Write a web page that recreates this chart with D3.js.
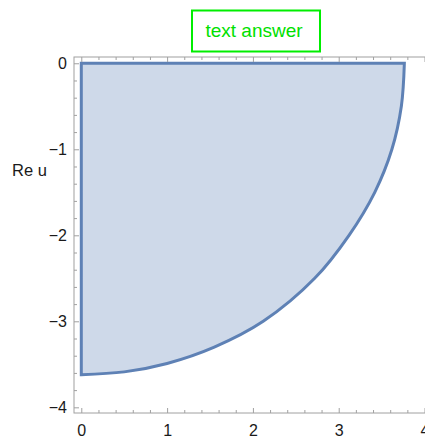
<!DOCTYPE html>
<html>
<head>
<meta charset="utf-8">
<script src="https://cdn.jsdelivr.net/npm/d3@7"></script>
<style>
  html, body { margin: 0; padding: 0; background: #fff; }
  svg { display: block; font-family: "Liberation Sans", Arial, sans-serif; }
</style>
</head>
<body>
<svg id="chart" width="425" height="439"></svg>
<script>
// Plot range (data units)
const xRange = [-0.085, 4.1];
const yRange = [-4.066, 0.073];

// Tick values
const xMajorTicks = [0, 1, 2, 3, 4];
const yMajorTicks = [0, -1, -2, -3, -4];
const minorStep = 0.2;

// Region boundary: straight edges along Re u = 0 and the vertical axis,
// closed by the curved outer edge running from (3.765, 0) to (0, -3.62).
const arcX = [3.765, 3.73, 3.62, 3.42, 3.12, 2.72, 2.12, 1.55, 1.0, 0.5, 0];
const arcY = [0, -0.5, -1.0, -1.5, -2.0, -2.5, -3.0, -3.3, -3.49, -3.588, -3.62];
const cornerX = 0, cornerY = 0;

const yTitle = "Re u";
const badgeText = "text answer";

const svg = d3.select("#chart");
const plot = { left: 74, right: 433.1, top: 57, bottom: 413 };

const x = d3.scaleLinear().domain(xRange).range([plot.left, plot.right]);
const y = d3.scaleLinear().domain(yRange).range([plot.bottom, plot.top]);

const frameColor = "#a0a0a0";
const lineColor = "#5e81b5";

// Filled region
const arcPts = arcX.map((v, i) => [v, arcY[i]]);
const arcPath = d3.line().x(d => x(d[0])).y(d => y(d[1])).curve(d3.curveCatmullRom.alpha(0.5))(arcPts);
svg.append("path")
  .attr("d", arcPath + `L${x(cornerX)},${y(cornerY)}Z`)
  .attr("fill", lineColor)
  .attr("fill-opacity", 0.3)
  .attr("stroke", lineColor)
  .attr("stroke-width", 3)
  .attr("stroke-linejoin", "miter");

// Minor tick values
function minors(range, majors) {
  const out = [];
  const start = Math.ceil(range[0] / minorStep) * minorStep;
  for (let v = start; v <= range[1] + 1e-9; v += minorStep) {
    const r = Math.round(v * 10) / 10;
    if (!majors.some(m => Math.abs(m - r) < 1e-6)) out.push(r);
  }
  return out;
}
const xMinor = minors(xRange, xMajorTicks);
const yMinor = minors(yRange, yMajorTicks);

const fmt = d3.format("d");

function styleAxis(g) {
  g.select(".domain").remove();
  g.selectAll(".tick line").attr("stroke", frameColor).attr("stroke-width", 1);
  g.selectAll(".tick text").attr("fill", "#1a1a1a").attr("font-size", 16)
    .attr("font-family", "Liberation Sans, Arial, sans-serif");
}

// Bottom axis
svg.append("g").attr("transform", `translate(0,${plot.bottom})`)
  .call(d3.axisBottom(x).tickValues(xMajorTicks).tickFormat(fmt).tickSize(-5).tickPadding(12))
  .call(styleAxis);
svg.append("g").attr("transform", `translate(0,${plot.bottom})`)
  .call(d3.axisBottom(x).tickValues(xMinor).tickFormat("").tickSize(-3))
  .call(styleAxis);

// Top axis (ticks only)
svg.append("g").attr("transform", `translate(0,${plot.top})`)
  .call(d3.axisTop(x).tickValues(xMajorTicks).tickFormat("").tickSize(-5))
  .call(styleAxis);
svg.append("g").attr("transform", `translate(0,${plot.top})`)
  .call(d3.axisTop(x).tickValues(xMinor).tickFormat("").tickSize(-3))
  .call(styleAxis);

// Left axis
svg.append("g").attr("transform", `translate(${plot.left},0)`)
  .call(d3.axisLeft(y).tickValues(yMajorTicks).tickFormat(fmt).tickSize(-5).tickPadding(7))
  .call(styleAxis);
svg.append("g").attr("transform", `translate(${plot.left},0)`)
  .call(d3.axisLeft(y).tickValues(yMinor).tickFormat("").tickSize(-3))
  .call(styleAxis);

// Frame
svg.append("rect")
  .attr("x", plot.left).attr("y", plot.top)
  .attr("width", plot.right - plot.left).attr("height", plot.bottom - plot.top)
  .attr("fill", "none").attr("stroke", frameColor).attr("stroke-width", 1);

// Vertical axis title
svg.append("text")
  .attr("x", 12).attr("y", 175.5)
  .attr("font-size", 16.5).attr("fill", "#1a1a1a")
  .text(yTitle);

// Boxed label above the plot
svg.append("rect")
  .attr("x", 192).attr("y", 10.5).attr("width", 128).attr("height", 41)
  .attr("fill", "none").attr("stroke", "#00ee00").attr("stroke-width", 2);
svg.append("text")
  .attr("x", 254).attr("y", 37)
  .attr("text-anchor", "middle")
  .attr("font-size", 19).attr("fill", "#00e000")
  .text(badgeText);
</script>
</body>
</html>
